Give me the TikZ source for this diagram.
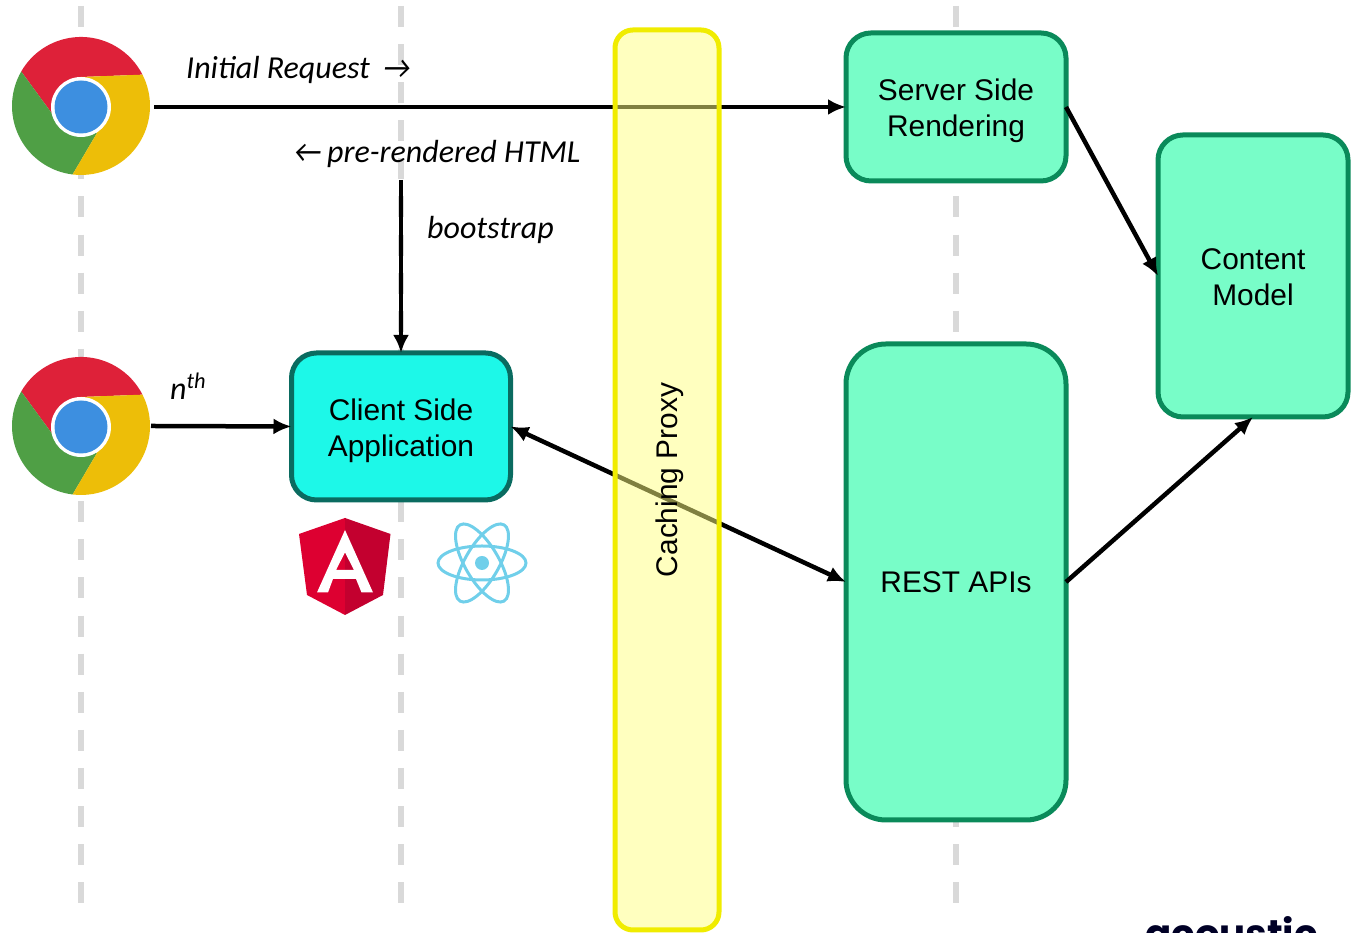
\documentclass[tikz,border=0pt]{standalone}
\usepackage{fontspec}
\setmainfont{Liberation Sans}
\newfontfamily\labelfont{Carlito}
\newfontfamily\logofont{Poppins}
\usepackage{tikz}
\usetikzlibrary{arrows.meta}
\definecolor{lanegray}{HTML}{D9D9D9}
\definecolor{boxgreen}{HTML}{78FDC8}
\definecolor{boxedge}{HTML}{0A8A5A}
\definecolor{clientfill}{HTML}{1DF8E8}
\definecolor{clientedge}{HTML}{0A6B60}
\definecolor{proxyfill}{HTML}{FFFF80}
\definecolor{proxyedge}{HTML}{F0EC00}
\definecolor{reactblue}{HTML}{70CFEA}
\definecolor{chromered}{HTML}{DE2139}
\definecolor{chromegreen}{HTML}{4F9F45}
\definecolor{chromeyellow}{HTML}{EDBE08}
\definecolor{chromeblue}{HTML}{3D8FE0}
\definecolor{ngleft}{HTML}{DD0031}
\definecolor{ngright}{HTML}{C3002F}
\newcommand{\dropline}[1]{\rule{0pt}{#1}}
\tikzset{
	lane/.style={lanegray, line width=0.12cm, dash pattern=on 0.42cm off 0.342cm},
	flow/.style={line width=0.09cm},
	box/.style={draw=boxedge, fill=boxgreen, line width=0.1cm, outer sep=0pt, rounded corners=0.5cm, align=center, font=\fontsize{17}{20.4}\selectfont},
	hint/.style={anchor=west, font=\labelfont\itshape\fontsize{18.2}{20}\selectfont},
	chrome/.pic={
		\fill[chromered] (150:1.38) arc (150:27:1.38) -- (0,0.58) -- (-0.56,-0.18) -- cycle;
		\fill[chromegreen] (150:1.38) arc (150:263:1.38) -- (0.32,-0.54) -- (-0.56,-0.18) -- cycle;
		\fill[chromeyellow] (27:1.38) arc (27:-97:1.38) -- (0.32,-0.54) -- (0,0.58) -- cycle;
		\fill[white] (0,-0.02) circle [radius=0.6];
		\fill[chromeblue] (0,-0.02) circle [radius=0.53];
	}
}
\begin{document}
\begin{tikzpicture}[>={Latex[length=0.36cm,width=0.32cm]}]
	\clip (0,0) rectangle (27.1,18.66);
	%\draw[help lines] (0,0) grid (27,18);
	\foreach \xpos in {1.62,8.02,19.12}
		\draw[lane] (\xpos,18.54)--(\xpos,0.56);

	\node[circle, minimum size=2.76cm, inner sep=0pt, outer sep=0.08cm] (chromeTop) at (1.62,16.54) {};
	\node[circle, minimum size=2.76cm, inner sep=0pt, outer sep=0.02cm] (chromeNth) at (1.62,10.14) {};
	\pic at (chromeTop) {chrome};
	\pic at (chromeNth) {chrome};

	\node[box, minimum width=4.4cm, minimum height=2.96cm] (ssr) at (19.12,16.52) {\dropline{16.4pt}Server Side\\Rendering};
	\node[box, minimum width=3.8cm, minimum height=5.64cm] (content) at (25.06,13.14) {\dropline{13.6pt}Content\\Model};
	\node[box, minimum width=4.4cm, minimum height=9.52cm, rounded corners=0.8cm] (rest) at (19.12,7.02) {REST APIs};
	\node[box, draw=clientedge, fill=clientfill, minimum width=4.38cm, minimum height=2.94cm] (client) at (8.02,10.13) {\dropline{17pt}Client Side\\Application};

	\node[hint] (initial) at (3.6,17.26) {Initial Request\hspace{6.9pt}→};
	\node[hint] (html) at (5.74,15.58) {←\hspace{2.9pt}pre-rendered HTML};
	\node[hint] (boot) at (8.42,14.06) {bootstrap};
	\node[hint] (nth) at (3.28,10.94) {n\textsuperscript{th}};
	\coordinate (bootTop) at (8.02,15.06);

	\draw[flow,->] (chromeTop.east|-ssr.west)--(ssr.west);
	\draw[flow,->] (ssr.east)--(content.west);
	\draw[flow,->] (rest.east)--(content.south);
	\draw[flow,->] (bootTop)--(client.north);
	\draw[flow,->] (chromeNth.east)--(client.west);
	\draw[flow,<->] (client.east)--(rest.west);

	% angular shield
	\fill[ngleft] (6.9,8.3)--(5.98,7.98)--(6.14,6.76)--(6.9,6.36)--cycle;
	\fill[ngright] (6.9,8.3)--(7.81,7.98)--(7.66,6.76)--(6.9,6.36)--cycle;
	\fill[white, even odd rule] (6.9,8.06)--(7.46,6.81)--(7.23,6.81)--(7.12,7.08)--(6.66,7.08)--(6.56,6.81)--(6.34,6.81)--cycle
		(6.9,7.61)--(7.08,7.26)--(6.72,7.26)--cycle;
	% react atom
	\foreach \ang in {0,60,120}
		\draw[reactblue, line width=0.06cm, rotate around={\ang:(9.64,7.4)}] (9.64,7.4) ellipse [x radius=0.88, y radius=0.34];
	\fill[reactblue] (9.64,7.4) circle [radius=0.14];

	\node[draw=proxyedge, fill=proxyfill, line width=0.1cm, fill opacity=0.5, draw opacity=1, text opacity=1, rotate=90, rounded corners=0.36cm, minimum width=18cm, minimum height=2.08cm, font=\fontsize{17}{20.4}\selectfont] (proxy) at (13.34,9.06) {\dropline{16pt}Caching Proxy};

	\node[anchor=base west, inner sep=0pt, text=black!85!blue, font=\logofont\bfseries\fontsize{22}{22}\selectfont] (logo) at (22.9,-0.3) {acoustic};
\end{tikzpicture}
\end{document}
